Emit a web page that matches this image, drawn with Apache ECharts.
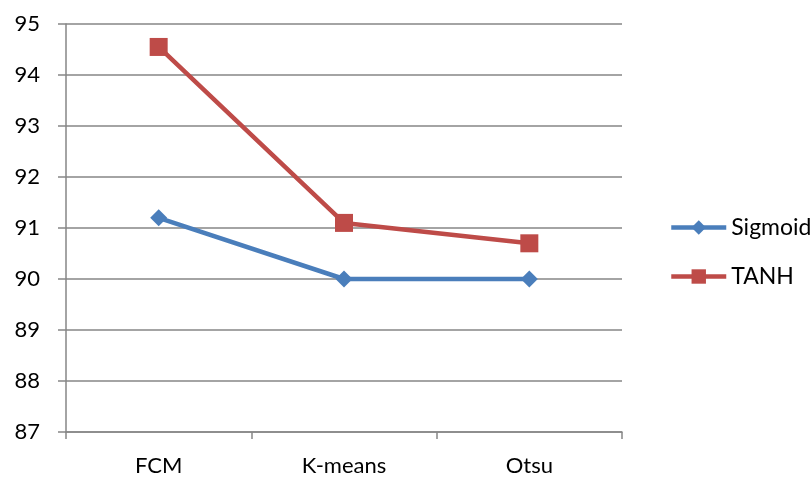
<!DOCTYPE html>
<html><head><meta charset="utf-8">
<script src="https://cdn.jsdelivr.net/npm/echarts@6/dist/echarts.min.js"></script>
<style>html,body{margin:0;padding:0;background:#fff}#c{width:810px;height:477px}</style>
</head><body><div id="c"></div>
<script>
const categories = ['FCM', 'K-means', 'Otsu'];
const sigmoid = [91.2, 90.0, 90.0];
const tanh = [94.55, 91.1, 90.7];
const seriesNames = ['Sigmoid', 'TANH'];

const chart = echarts.init(document.getElementById('c'));
const font = 'Lato, "Open Sans", sans-serif';
chart.setOption({
  animation: false,
  backgroundColor: '#fff',
  grid: { left: 66, right: 188, top: 24, bottom: 45 },
  legend: {
    orient: 'vertical', left: 664, top: 211, itemGap: 26,
    itemWidth: 55, itemHeight: 18,
    lineStyle: { width: 4.5 },
    textStyle: { fontFamily: font, fontSize: 23, lineHeight: 22, color: '#000' },
    data: seriesNames
  },
  xAxis: {
    type: 'category', data: categories, boundaryGap: true,
    axisLine: { lineStyle: { color: '#868686', width: 1.5 } },
    axisTick: { show: true, length: 7, lineStyle: { color: '#868686', width: 1.5 } },
    axisLabel: { fontFamily: font, fontSize: 22, color: '#000', margin: 23 }
  },
  yAxis: {
    type: 'value', min: 87, max: 95, interval: 1,
    axisLine: { show: true, lineStyle: { color: '#868686', width: 1.5 } },
    axisTick: { show: true, length: 8, lineStyle: { color: '#868686', width: 1.5 } },
    splitLine: { lineStyle: { color: '#868686', width: 1.5 } },
    axisLabel: { fontFamily: font, fontSize: 22, color: '#000', margin: 26 }
  },
  series: [
    { name: seriesNames[0], type: 'line', data: sigmoid, symbol: 'diamond', symbolSize: 17,
      color: '#4a7ebb', lineStyle: { width: 4.5, color: '#4a7ebb' }, itemStyle: { color: '#4a7ebb' } },
    { name: seriesNames[1], type: 'line', data: tanh, symbol: 'rect', symbolSize: 18,
      color: '#be4b48', lineStyle: { width: 4.5, color: '#be4b48' }, itemStyle: { color: '#be4b48' } }
  ]
});
</script></body></html>
